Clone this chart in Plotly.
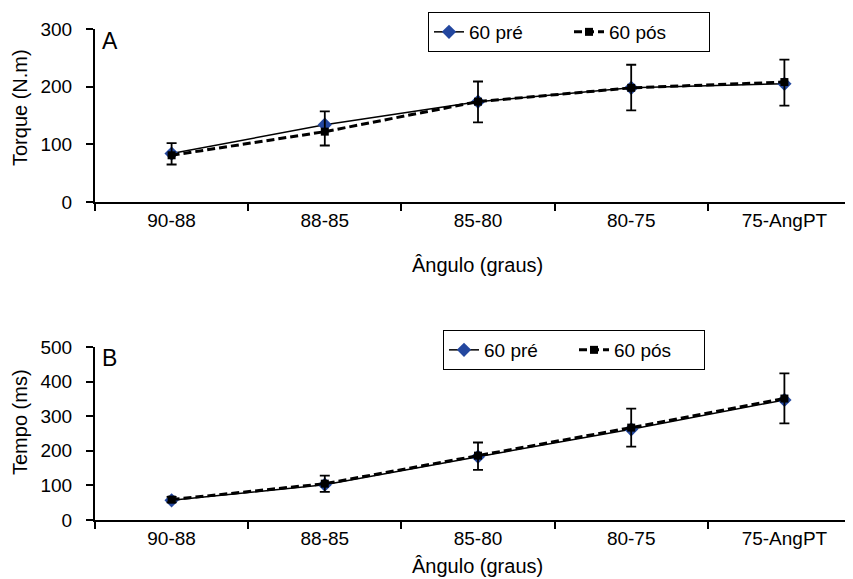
import plotly.graph_objects as go

categories = ["90-88", "88-85", "85-80", "80-75", "75-AngPT"]

torque_pre = [84, 134, 174, 198, 205]
torque_pos = [81, 122, 174, 198, 208]
torque_err_plus = [21, 35, 35, 40, 39]
torque_err_minus = [16, 24, 36, 39, 41]

tempo_pre = [57, 102, 183, 262, 347]
tempo_pos = [59, 105, 186, 267, 351]
tempo_err_plus = [8, 23, 38, 55, 73]
tempo_err_minus = [8, 24, 41, 55, 72]

# the page body has an 8px margin: the figure starts at (8, 8) in the window
OFF = 8
W, H = 853 - OFF, 579 - OFF
FONT = "Liberation Sans, Arial, Helvetica, sans-serif"
BLUE = "#23479f"


def px_x(x):
    return (x - OFF) / W


def px_y(y):
    return 1 - (y - OFF) / H


fig = go.Figure()


def add_pair(pre, pos, ep, em, xa, ya, legend):
    fig.add_trace(go.Scatter(
        x=categories, y=pre, name="60 pré", mode="lines+markers",
        line=dict(color="black", width=1.5),
        marker=dict(symbol="diamond", size=11, color=BLUE),
        xaxis=xa, yaxis=ya, legend=legend))
    fig.add_trace(go.Scatter(
        x=categories, y=pos, name="60 pós", mode="lines+markers",
        line=dict(color="black", width=3, dash="8px,4px"),
        marker=dict(symbol="square", size=8, color="black"),
        error_y=dict(type="data", symmetric=False, array=ep, arrayminus=em,
                     color="black", thickness=1.8, width=5),
        xaxis=xa, yaxis=ya, legend=legend))


add_pair(torque_pre, torque_pos, torque_err_plus, torque_err_minus, "x", "y", "legend")
add_pair(tempo_pre, tempo_pos, tempo_err_plus, tempo_err_minus, "x2", "y2", "legend2")

left = 95
right = 853
cat_w = 153.2
xmax = -0.5 + (right - left) / cat_w

top_y0, top_y1 = 202, 29
bot_y0, bot_y1 = 520, 347

xcommon = dict(type="category", range=[-0.5, xmax], showline=True, linecolor="black",
               linewidth=2, ticks="outside", ticklen=7, tickwidth=2, tickcolor="black",
               tickson="boundaries", showgrid=False, zeroline=False, automargin=False,
               tickfont=dict(family=FONT, size=19, color="black"))
ycommon = dict(showline=True, linecolor="black", linewidth=2, ticks="outside",
               ticklen=7, tickwidth=2, tickcolor="black", showgrid=False, zeroline=False,
               automargin=False,
               tickfont=dict(family=FONT, size=19, color="black"), ticklabelstandoff=10)

fig.update_layout(
    width=W, height=H,
    margin=dict(l=0, r=0, t=0, b=0),
    paper_bgcolor="white", plot_bgcolor="white",
    font=dict(family=FONT, color="black"),
    xaxis=dict(xcommon, domain=[px_x(left), 1], anchor="y"),
    yaxis=dict(ycommon, domain=[px_y(top_y0), px_y(top_y1)], range=[0, 300],
               tickvals=[0, 100, 200, 300], anchor="x"),
    xaxis2=dict(xcommon, domain=[px_x(left), 1], anchor="y2"),
    yaxis2=dict(ycommon, domain=[px_y(bot_y0), px_y(bot_y1)], range=[0, 500],
                tickvals=[0, 100, 200, 300, 400, 500], anchor="x2"),
    legend=dict(orientation="h", x=px_x(428), y=px_y(12), xanchor="left", yanchor="top",
                bordercolor="black", borderwidth=1, bgcolor="white",
                font=dict(family=FONT, size=19, color="black"), entrywidth=95),
    legend2=dict(orientation="h", x=px_x(443), y=px_y(330), xanchor="left", yanchor="top",
                 bordercolor="black", borderwidth=1, bgcolor="white",
                 font=dict(family=FONT, size=19, color="black"), entrywidth=85),
    showlegend=True,
)


def ann(text, x, y, size, angle=0, xanchor="center", yanchor="middle"):
    fig.add_annotation(text=text, x=px_x(x), y=px_y(y), xref="paper", yref="paper",
                       showarrow=False, textangle=angle, xanchor=xanchor, yanchor=yanchor,
                       font=dict(family=FONT, size=size, color="black"))


ann("A", 100, 26, 23, xanchor="left", yanchor="top")
ann("B", 100, 343, 23, xanchor="left", yanchor="top")
ann("Ângulo (graus)", 477, 265, 20)
ann("Ângulo (graus)", 477, 566, 20)
ann("Torque (N.m)", 20, 108, 20, angle=-90)
ann("Tempo (ms)", 20, 422, 20, angle=-90)

fig.write_html("out.html")
